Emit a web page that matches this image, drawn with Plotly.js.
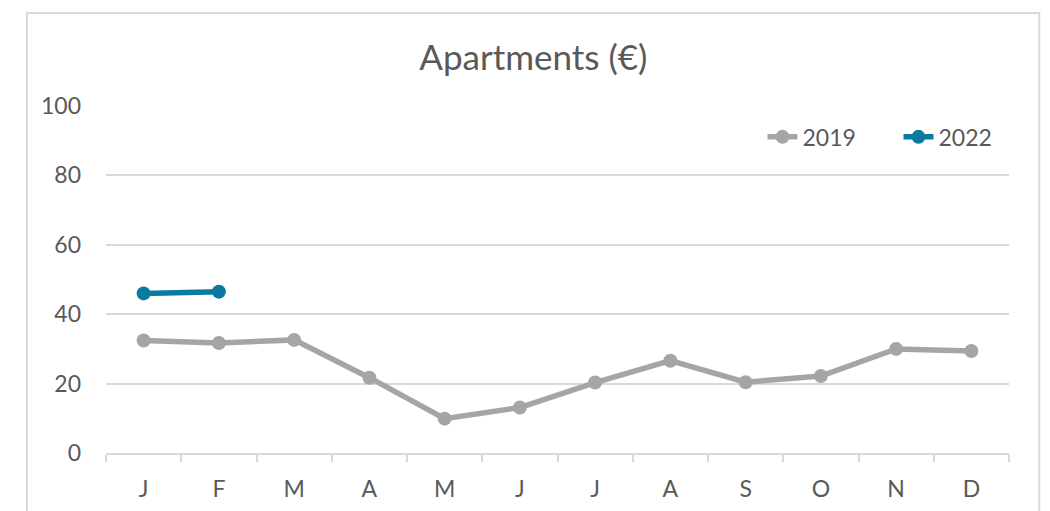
<!DOCTYPE html>
<html>
<head>
<meta charset="utf-8">
<script src="https://cdn.plot.ly/plotly-3.0.1.min.js"></script>
<style>
  html, body { margin: 0; padding: 0; background: #fff; }
  #chart { width: 1050px; height: 511px; }
</style>
</head>
<body>
<div id="chart"></div>
<script>
const months = ["J", "F", "M", "A", "M ", "J ", "J  ", "A ", "S", "O", "N", "D"];
const values2019 = [32.4, 31.7, 32.6, 21.7, 9.9, 13.1, 20.3, 26.6, 20.4, 22.2, 30.0, 29.4];
const months2022 = ["J", "F"];
const values2022 = [46.0, 46.5];
const yTicks = [0, 20, 40, 60, 80, 100];

const textColor = "#595959";
const gridColor = "#d9d9d9";
const fontFamily = "Lato, 'Open Sans', sans-serif";

const traces = [
  {
    x: months, y: values2019, name: "2019", type: "scatter", mode: "lines+markers",
    line: { color: "#A5A5A5", width: 5.5 },
    marker: { color: "#A5A5A5", size: 14 }
  },
  {
    x: months2022, y: values2022, name: "2022", type: "scatter", mode: "lines+markers",
    line: { color: "#0B7AA0", width: 5.5 },
    marker: { color: "#0B7AA0", size: 14 }
  }
];

const layout = {
  width: 1050, height: 511,
  margin: { l: 106, r: 41, t: 106, b: 58, autoexpand: false },
  paper_bgcolor: "#ffffff",
  plot_bgcolor: "#ffffff",
  font: { family: fontFamily, color: textColor },
  title: {
    text: "Apartments (€)",
    font: { family: fontFamily, size: 35, color: textColor },
    xref: "container", x: 0.508, xanchor: "center",
    yref: "container", y: 0.887, yanchor: "middle"
  },
  xaxis: {
    type: "category",
    categoryorder: "array", categoryarray: months,
    tickvals: months, ticktext: months.map(s => s.trim()),
    range: [-0.5, 11.5],
    showgrid: false, zeroline: false,
    showline: true, linecolor: gridColor, linewidth: 2,
    ticks: "outside", tickson: "boundaries", ticklen: 7, tickcolor: gridColor, tickwidth: 2,
    tickfont: { family: fontFamily, size: 23, color: textColor },
    ticklabelstandoff: 14,
    automargin: false,
    fixedrange: true
  },
  yaxis: {
    range: [0, 100],
    tickvals: yTicks,
    showgrid: true, gridcolor: gridColor, gridwidth: 2,
    zeroline: false, showline: false,
    ticks: "", ticklabelstandoff: 24,
    tickfont: { family: fontFamily, size: 23, color: textColor },
    automargin: false,
    fixedrange: true
  },
  showlegend: true,
  legend: {
    orientation: "h",
    x: 0.727, xanchor: "left",
    y: 0.911, yanchor: "middle",
    font: { family: fontFamily, size: 23, color: textColor },
    bgcolor: "rgba(0,0,0,0)",
    entrywidth: 91, entrywidthmode: "pixels"
  },
  shapes: [
    {
      type: "rect", xref: "paper", yref: "paper",
      x0: -0.0875, x1: 1.0335, y0: -0.4, y1: 1.268,
      line: { color: gridColor, width: 2 }, fillcolor: "rgba(0,0,0,0)", layer: "below"
    }
  ]
};

Plotly.newPlot("chart", traces, layout, { displayModeBar: false, staticPlot: true });
</script>
</body>
</html>
